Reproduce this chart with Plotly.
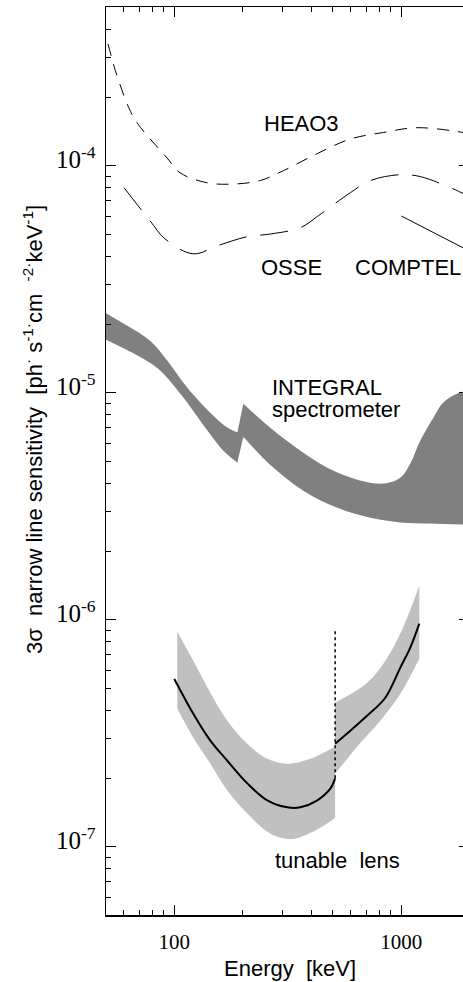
import plotly.graph_objects as go
import numpy as np

# ---------------- data ----------------
heao3_E = [51, 53, 55, 63, 69, 93, 106, 140, 182, 239, 302, 426, 596, 833, 1175, 1875, 2000]
heao3_S = [3.44e-4, 2.99e-4, 2.62e-4, 1.80e-4, 1.53e-4, 1.08e-4, 9.3e-5, 8.4e-5, 8.3e-5, 8.6e-5,
           9.5e-5, 1.13e-4, 1.31e-4, 1.40e-4, 1.47e-4, 1.40e-4, 1.38e-4]

osse_E = [60, 78, 91, 121, 155, 210, 265, 359, 431, 596, 729, 990, 1213, 1679, 1875, 2000]
osse_S = [8.0e-5, 5.73e-5, 4.76e-5, 4.09e-5, 4.44e-5, 4.87e-5, 5.0e-5, 5.33e-5, 6.02e-5,
          7.60e-5, 8.59e-5, 9.13e-5, 8.95e-5, 7.93e-5, 7.53e-5, 7.3e-5]

comptel_E = [1000, 2000]
comptel_S = [6.0e-5, 4.2e-5]

# INTEGRAL spectrometer band: left part (below the 200 keV step), step, right part
integralL_up_E = [50, 62.1, 78.4, 93.2, 114.1, 148.5, 171.2, 189.5]
integralL_up_S = [2.24e-5, 1.97e-5, 1.69e-5, 1.384e-5, 1.052e-5, 7.92e-6, 7.02e-6, 6.67e-6]
integralL_lo_E = [50, 73.0, 86.8, 109.6, 139.8, 164.4, 189.5]
integralL_lo_S = [1.71e-5, 1.41e-5, 1.25e-5, 9.51e-6, 6.81e-6, 5.55e-6, 4.92e-6]

integralStep_E = [188.0, 189.5, 201.4, 203.0]
integralStep_up = [6.69e-6, 6.67e-6, 8.94e-6, 8.80e-6]
integralStep_lo = [4.96e-6, 4.92e-6, 6.40e-6, 6.30e-6]

integralR_up_E = [201.4, 264.9, 370.1, 522.4, 808, 990, 1095, 1213, 1384, 1531, 1765, 2000]
integralR_up_S = [8.94e-6, 7.0e-6, 5.44e-6, 4.45e-6, 3.97e-6, 4.22e-6, 4.87e-6, 6.15e-6, 7.76e-6,
                  9.04e-6, 9.91e-6, 1.02e-5]
integralR_lo_E = [201.4, 264.9, 370.1, 522.4, 730.2, 990, 1342, 2000]
integralR_lo_S = [6.40e-6, 4.8e-6, 3.70e-6, 3.11e-6, 2.81e-6, 2.68e-6, 2.65e-6, 2.62e-6]

# tunable lens band (two parts, split at 511 keV)
lens_bandL_E = [103, 121.2, 144.1, 171.2, 209.7, 256.8, 314.7, 397.2, 501.5, 511]
lens_bandL_up = [8.85e-7, 6.59e-7, 4.77e-7, 3.59e-7, 2.84e-7, 2.44e-7, 2.32e-7, 2.44e-7, 2.73e-7, 2.75e-7]
lens_bandL_loE = [103, 121.2, 144.1, 171.2, 209.7, 264.9, 324.3, 358.9, 439.7, 511]
lens_bandL_lo = [4.06e-7, 3.02e-7, 2.32e-7, 1.77e-7, 1.40e-7, 1.14e-7, 1.08e-7, 1.10e-7, 1.21e-7, 1.34e-7]

lens_bandR_upE = [511, 708, 833, 990, 1200]
lens_bandR_up = [4.31e-7, 5.28e-7, 6.39e-7, 8.68e-7, 1.41e-6]
lens_bandR_loE = [511, 555, 660, 808, 990, 1200]
lens_bandR_lo = [2.10e-7, 2.32e-7, 2.87e-7, 3.59e-7, 4.72e-7, 6.73e-7]

lens_lineL_E = [100, 121.2, 144.1, 171.2, 209.7, 256.8, 314.7, 358.9, 426.6, 486.5, 511]
lens_lineL_S = [5.48e-7, 3.85e-7, 2.93e-7, 2.39e-7, 1.90e-7, 1.60e-7, 1.49e-7, 1.49e-7, 1.60e-7, 1.80e-7, 2.0e-7]
lens_lineR_E = [511, 596, 708, 850, 990, 1095, 1200]
lens_lineR_S = [2.84e-7, 3.24e-7, 3.78e-7, 4.53e-7, 6.15e-7, 7.53e-7, 9.60e-7]

line511_E = [511, 511]
line511_S = [2.0e-7, 9.03e-7]

x_major = [100, 1000]
x_major_text = ["100", "1000"]
x_minor = [60, 70, 80, 90, 200, 300, 400, 500, 600, 700, 800, 900]
y_major = [1e-7, 1e-6, 1e-5, 1e-4]
y_major_text = ["10<sup>-7</sup>", "10<sup>-6</sup>", "10<sup>-5</sup>", "10<sup>-4</sup>"]
y_minor = [m * 10.0 ** d for d in (-8, -7, -6, -5, -4) for m in range(2, 10)]

DARK = "#808080"
LIGHT = "#c0c0c0"

fig = go.Figure()


def band(xlo, ylo, xup, yup, color, shape):
    fig.add_trace(go.Scatter(x=xlo, y=ylo, mode="lines",
                             line=dict(width=0, color=color, shape=shape),
                             showlegend=False, hoverinfo="skip"))
    fig.add_trace(go.Scatter(x=xup, y=yup, mode="lines", fill="tonexty", fillcolor=color,
                             line=dict(width=0, color=color, shape=shape),
                             showlegend=False, hoverinfo="skip"))


# INTEGRAL band
band(integralL_lo_E, integralL_lo_S, integralL_up_E, integralL_up_S, DARK, "spline")
band(integralR_lo_E, integralR_lo_S, integralR_up_E, integralR_up_S, DARK, "spline")
band(integralStep_E, integralStep_lo, integralStep_E, integralStep_up, DARK, "linear")

# tunable lens bands
band(lens_bandL_loE, lens_bandL_lo, lens_bandL_E, lens_bandL_up, LIGHT, "spline")
band(lens_bandR_loE, lens_bandR_lo, lens_bandR_upE, lens_bandR_up, LIGHT, "spline")

# lens lines
fig.add_trace(go.Scatter(x=lens_lineL_E, y=lens_lineL_S, mode="lines",
                         line=dict(width=2, color="black", shape="spline"), showlegend=False))
fig.add_trace(go.Scatter(x=lens_lineR_E, y=lens_lineR_S, mode="lines",
                         line=dict(width=2, color="black", shape="spline"), showlegend=False))
fig.add_trace(go.Scatter(x=line511_E, y=line511_S, mode="lines",
                         line=dict(width=1.5, color="black", dash="dot"), showlegend=False))

# HEAO3, OSSE, COMPTEL
fig.add_trace(go.Scatter(x=heao3_E, y=heao3_S, mode="lines",
                         line=dict(width=1, color="black", dash="12px,9px", shape="spline"), showlegend=False))
fig.add_trace(go.Scatter(x=osse_E, y=osse_S, mode="lines",
                         line=dict(width=1, color="black", dash="28px,14px", shape="spline"), showlegend=False))
fig.add_trace(go.Scatter(x=comptel_E, y=comptel_S, mode="lines",
                         line=dict(width=1, color="black"), showlegend=False))

# dummy for right ticks axis
fig.add_trace(go.Scatter(x=[1000], y=[1e-5], yaxis="y2", mode="markers",
                         marker=dict(opacity=0), showlegend=False, hoverinfo="skip"))

serif = "Liberation Serif"
sans = "Liberation Sans"
yr = [np.log10(5e-8), np.log10(5e-4)]

fig.update_layout(
    width=463, height=982,
    margin=dict(l=106, r=0, t=7, b=67),
    paper_bgcolor="white", plot_bgcolor="white",
    xaxis=dict(type="log", range=[np.log10(50), 3.2717], showgrid=False, zeroline=False,
               showline=True, linecolor="black", linewidth=1.5, mirror="ticks",
               ticks="inside", ticklen=10, tickwidth=1.5, tickcolor="black",
               tickvals=x_major, ticktext=x_major_text, ticklabelstandoff=7,
               tickfont=dict(family=serif, size=21, color="black"),
               minor=dict(tickvals=x_minor, ticks="inside", ticklen=5, tickwidth=1, tickcolor="black", showgrid=False)),
    yaxis=dict(type="log", range=yr, showgrid=False, zeroline=False,
               showline=True, linecolor="black", linewidth=1.5, mirror=False,
               ticks="inside", ticklen=10, tickwidth=1.5, tickcolor="black",
               tickvals=y_major, ticktext=y_major_text, ticklabelstandoff=4, ticklabelshift=-6,
               tickfont=dict(family=serif, size=25, color="black"),
               minor=dict(tickvals=y_minor, ticks="inside", ticklen=5, tickwidth=1, tickcolor="black", showgrid=False)),
    yaxis2=dict(type="log", range=yr, overlaying="y", side="right", showgrid=False, zeroline=False,
                showline=False, ticks="inside", ticklen=4, tickwidth=1.5, tickcolor="black",
                tickvals=y_major, showticklabels=False),
    showlegend=False,
    hovermode=False,
)


def ann(text, px, py, anchor="center", size=22, angle=0):
    fig.add_annotation(text=text, xref="paper", yref="paper",
                       x=(px - 106) / 357.0, y=(915 - py) / 908.0,
                       xanchor=anchor, yanchor="middle", showarrow=False, textangle=angle,
                       font=dict(family=sans, size=size, color="black"))


ann("HEAO3", 301, 124)
ann("OSSE", 291, 267)
ann("COMPTEL", 407.5, 267)
ann("INTEGRAL", 270, 387, anchor="left")
ann("spectrometer", 270, 409, anchor="left")
ann("tunable  lens", 337, 860)
ann("Energy  [keV]", 290, 968)
ann("3σ  narrow line sensitivity  [ph<sup>·</sup> s<sup>-1</sup><sup>·</sup>cm  <sup>-2</sup><sup>·</sup>keV<sup>-1</sup>]",
    33, 430, angle=-90)

fig.write_html("out.html", config={"displayModeBar": False, "staticPlot": True},
               post_script="document.body.style.margin='0';document.body.style.overflow='hidden';")
